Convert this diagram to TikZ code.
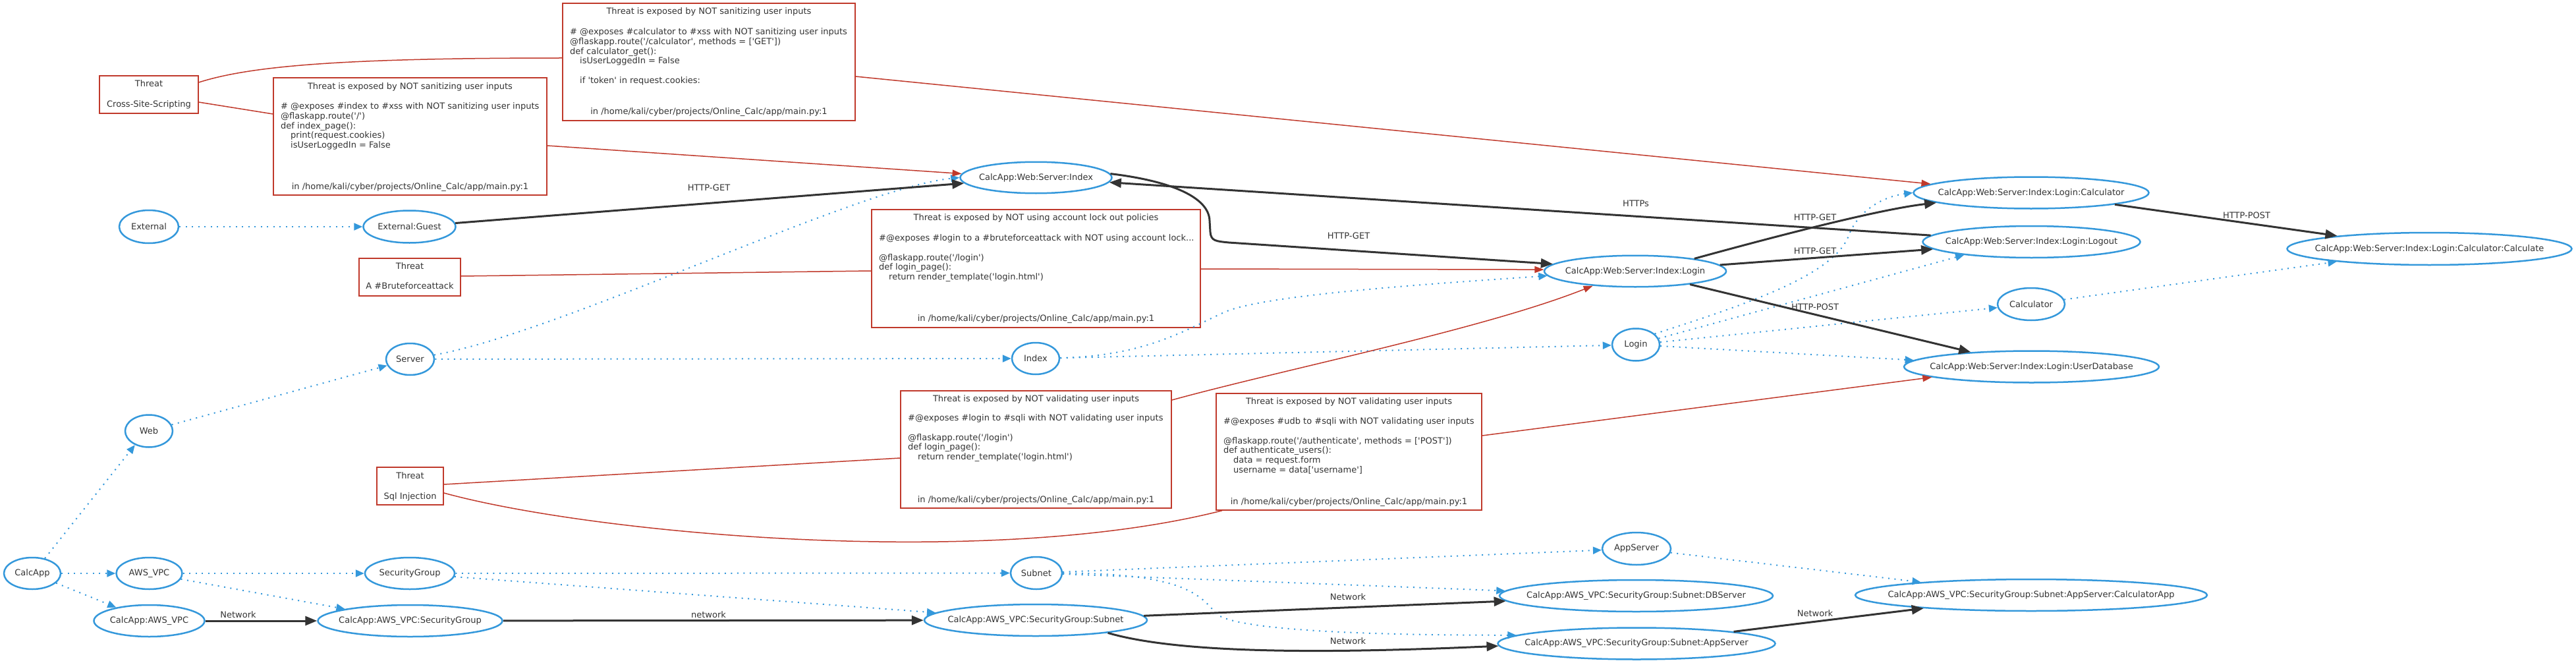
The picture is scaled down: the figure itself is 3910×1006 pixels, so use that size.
\documentclass[tikz,border=0pt]{standalone}
\usepackage{fontspec}
\setmainfont{DejaVu Sans}[Ligatures=TeXOff]
\usetikzlibrary{arrows.meta,shapes.geometric}
\definecolor{nblue}{HTML}{3498DB}
\definecolor{nred}{HTML}{C0392B}
\definecolor{ndark}{HTML}{333333}
\definecolor{ntext}{HTML}{333333}
\newcommand\zw[1]{\makebox[0pt]{#1}}
\begin{document}
\begin{tikzpicture}[x=1pt,y=-1pt,
  font=\fontsize{13}{14.7}\selectfont,
  every node/.style={text=ntext},
  ell/.style={ellipse, draw=nblue, line width=2.5pt, fill=white, inner sep=0pt},
  tbox/.style={draw=nred, line width=1.5pt, fill=white, inner sep=0pt},
  tl/.style={inner sep=0pt, anchor=base},
  cl/.style={inner sep=0pt, anchor=base west},
  lbl/.style={inner sep=0pt},
  hier/.style={draw=nblue, line width=2pt, dash pattern=on 2pt off 7.5pt, -{Triangle[length=13pt,width=11pt]}},
  flow/.style={draw=ndark, line width=3pt, -{Triangle[length=18pt,width=14pt]}},
  thr/.style={draw=nred, line width=1.5pt},
  thra/.style={thr, -{Triangle[length=14pt,width=10pt]}}
]
\useasboundingbox (0,0) rectangle (3910,1006);

% ---------- ellipses ----------
\node[ell, minimum width=86, minimum height=48] (calcapp) at (49,870) {\zw{CalcApp}};
\node[ell, minimum width=72, minimum height=49] (web) at (226,654) {\zw{Web}};
\node[ell, minimum width=73, minimum height=48] (server) at (622.5,545) {\zw{Server}};
\node[ell, minimum width=90, minimum height=50] (external) at (226,344) {\zw{External}};
\node[ell, minimum width=140, minimum height=49] (guest) at (621.5,344) {\zw{External:Guest}};
\node[ell, minimum width=230, minimum height=47.5] (wsi) at (1572.5,269.5) {\zw{CalcApp:Web:Server:Index}};
\node[ell, minimum width=72, minimum height=48] (index) at (1572,544) {\zw{Index}};
\node[ell, minimum width=276, minimum height=47.5] (wsil) at (2482,411.5) {\zw{CalcApp:Web:Server:Index:Login}};
\node[ell, minimum width=72, minimum height=49] (login) at (2483,523) {\zw{Login}};
\node[ell, minimum width=357, minimum height=48] (wcalc) at (3083,292.5) {\zw{CalcApp:Web:Server:Index:Login:Calculator}};
\node[ell, minimum width=330, minimum height=48] (wlogout) at (3083.5,367) {\zw{CalcApp:Web:Server:Index:Login:Logout}};
\node[ell, minimum width=432, minimum height=49] (wcalcul) at (3687.5,377.5) {\zw{CalcApp:Web:Server:Index:Login:Calculator:Calculate}};
\node[ell, minimum width=102, minimum height=49] (calculator) at (3083,461.5) {\zw{Calculator}};
\node[ell, minimum width=387, minimum height=48] (wudb) at (3083.5,556.5) {\zw{CalcApp:Web:Server:Index:Login:UserDatabase}};
\node[ell, minimum width=100, minimum height=48] (awsvpc) at (226.5,870) {\zw{AWS\_VPC}};
\node[ell, minimum width=136, minimum height=48] (sg) at (622,870) {\zw{SecurityGroup}};
\node[ell, minimum width=78, minimum height=49] (subnet) at (1573,869.5) {\zw{Subnet}};
\node[ell, minimum width=104, minimum height=49] (appserver) at (2484,832.5) {\zw{AppServer}};
\node[ell, minimum width=168, minimum height=48] (cavpc) at (226.5,942) {\zw{CalcApp:AWS\_VPC}};
\node[ell, minimum width=280, minimum height=48] (casg) at (622.5,942) {\zw{CalcApp:AWS\_VPC:SecurityGroup}};
\node[ell, minimum width=338, minimum height=48] (casub) at (1572,941) {\zw{CalcApp:AWS\_VPC:SecurityGroup:Subnet}};
\node[ell, minimum width=415, minimum height=48] (cadb) at (2483.5,904) {\zw{CalcApp:AWS\_VPC:SecurityGroup:Subnet:DBServer}};
\node[ell, minimum width=421, minimum height=48] (caapp) at (2484,976.5) {\zw{CalcApp:AWS\_VPC:SecurityGroup:Subnet:AppServer}};
\node[ell, minimum width=534, minimum height=48] (cacalc) at (3083,903) {\zw{CalcApp:AWS\_VPC:SecurityGroup:Subnet:AppServer:CalculatorApp}};

% ---------- threat boxes ----------
\node[tbox, minimum width=444, minimum height=178] (box1) at (1076,94) {};
\node[tbox, minimum width=415, minimum height=178] (box2) at (622.5,207) {};
\node[tbox, minimum width=499, minimum height=179] (lock) at (1572.5,407.5) {};
\node[tbox, minimum width=411, minimum height=178] (sqli) at (1572.5,682) {};
\node[tbox, minimum width=403, minimum height=177] (udb) at (2047.5,685.5) {};
\node[tbox, minimum width=150, minimum height=57] (xsst) at (226,143.5) {};
\node[tbox, minimum width=154, minimum height=57] (brutet) at (622,420.5) {};
\node[tbox, minimum width=101, minimum height=57] (sqlt) at (622.5,737.5) {};

% box1 text
\node[tl] (b1t) at (1076,21.7) {Threat is exposed by NOT sanitizing user inputs};
\node[cl] (b1a) at (865,52.7) {\# @exposes \#calculator to \#xss with NOT sanitizing user inputs};
\node[cl] (b1b) at (865,67.4) {@flaskapp.route('/calculator', methods = ['GET'])};
\node[cl] (b1c) at (865,82.1) {def calculator\_get():};
\node[cl] (b1d) at (865,96.8) {\hspace*{15pt}isUserLoggedIn = False};
\node[cl] (b1e) at (865,126.2) {\hspace*{15pt}if 'token' in request.cookies:};
\node[tl] (b1f) at (1076,173.7) {in /home/kali/cyber/projects/Online\_Calc/app/main.py:1};

% box2 text
\node[tl] (b2t) at (622.5,135.7) {Threat is exposed by NOT sanitizing user inputs};
\node[cl] (b2a) at (426,165.7) {\# @exposes \#index to \#xss with NOT sanitizing user inputs};
\node[cl] (b2b) at (426,180.4) {@flaskapp.route('/')};
\node[cl] (b2c) at (426,195.1) {def index\_page():};
\node[cl] (b2d) at (426,209.8) {\hspace*{15pt}print(request.cookies)};
\node[cl] (b2e) at (426,224.5) {\hspace*{15pt}isUserLoggedIn = False};
\node[tl] (b2f) at (622.5,287.7) {in /home/kali/cyber/projects/Online\_Calc/app/main.py:1};

% lockout text
\node[tl] (k0) at (1572.5,334.7) {Threat is exposed by NOT using account lock out policies};
\node[cl] (k1) at (1334,365.7) {\#@exposes \#login to a \#bruteforceattack with NOT using account lock...};
\node[cl] (k2) at (1334,395.1) {@flaskapp.route('/login')};
\node[cl] (k3) at (1334,409.8) {def login\_page():};
\node[cl] (k4) at (1334,424.5) {\hspace*{15pt}return render\_template('login.html')};
\node[tl] (k5) at (1572.5,487.7) {in /home/kali/cyber/projects/Online\_Calc/app/main.py:1};

% sqli login text
\node[tl] (q0) at (1572.5,609.7) {Threat is exposed by NOT validating user inputs};
\node[cl] (q1) at (1378,638.7) {\#@exposes \#login to \#sqli with NOT validating user inputs};
\node[cl] (q2) at (1378,668.1) {@flaskapp.route('/login')};
\node[cl] (q3) at (1378,682.8) {def login\_page():};
\node[cl] (q4) at (1378,697.5) {\hspace*{15pt}return render\_template('login.html')};
\node[tl] (q5) at (1572.5,762.7) {in /home/kali/cyber/projects/Online\_Calc/app/main.py:1};

% udb text
\node[tl] (u0) at (2047.5,613.7) {Threat is exposed by NOT validating user inputs};
\node[cl] (u1) at (1857,643.7) {\#@exposes \#udb to \#sqli with NOT validating user inputs};
\node[cl] (u2) at (1857,673.1) {@flaskapp.route('/authenticate', methods = ['POST'])};
\node[cl] (u3) at (1857,687.8) {def authenticate\_users():};
\node[cl] (u4) at (1857,702.5) {\hspace*{15pt}data = request.form};
\node[cl] (u5) at (1857,717.2) {\hspace*{15pt}username = data['username']};
\node[tl] (u6) at (2047.5,765.7) {in /home/kali/cyber/projects/Online\_Calc/app/main.py:1};

% small threat boxes text
\node[tl] (xsst1) at (226,131.7) {Threat};
\node[tl] (xsst2) at (226,162.7) {Cross-Site-Scripting};
\node[tl] (brutet1) at (622,408.7) {Threat};
\node[tl] (brutet2) at (622,438.7) {A \#Bruteforceattack};
\node[tl] (sqlt1) at (622.5,726.7) {Threat};
\node[tl] (sqlt2) at (622.5,757.7) {Sql Injection};

% ---------- hierarchy (dotted blue) ----------
\draw[hier] (calcapp.50) -- (web.225);
\draw[hier] (calcapp) -- (awsvpc);
\draw[hier] (calcapp) -- (cavpc);
\draw[hier] (web) -- (server);
\draw[hier] (server) .. controls (850,505) and (1300,285) .. (wsi.west);
\draw[hier] (server) -- (index);
\draw[hier] (external) -- (guest);
\draw[hier] (index) .. controls (1740,540) and (1800,500) .. (1860,473) .. controls (1920,448) and (2150,432) .. (wsil.183);
\draw[hier] (index) -- (login);
\draw[hier] (login.30) .. controls (2640,465) and (2780,420) .. (2805,360) .. controls (2820,318) and (2860,298) .. (wcalc.west);
\draw[hier] (login) -- (wlogout.191);
\draw[hier] (login) -- (calculator);
\draw[hier] (login) -- (wudb);
\draw[hier] (calculator) -- (wcalcul);
\draw[hier] (awsvpc) -- (sg);
\draw[hier] (awsvpc) -- (casg);
\draw[hier] (sg) -- (subnet);
\draw[hier] (sg) -- (casub);
\draw[hier] (subnet) -- (appserver);
\draw[hier] (subnet) -- (cadb);
\draw[hier] (subnet.east) .. controls (1790,870) and (1820,900) .. (1845,930) .. controls (1870,958) and (2100,964) .. (caapp.176);
\draw[hier] (appserver) -- (cacalc);

% ---------- flows (dark) ----------
\draw[flow] (guest) -- (wsi);
\draw[flow] (wsi.3) .. controls (1780,275) and (1835,300) .. (1836,335) -- (1837,352) .. controls (1838,366) and (1846,366) .. (1865,368) -- (wsil.175);
\draw[flow] (wlogout) -- (wsi);
\draw[flow] (wsil.12) .. controls (2690,360) and (2850,318) .. (wcalc.186);
\draw[flow] (wsil) -- (wlogout);
\draw[flow] (wsil) -- (wudb);
\draw[flow] (wcalc) -- (wcalcul);
\draw[flow] (cavpc) -- (casg);
\draw[flow] (casg) -- (casub);
\draw[flow] (casub) -- (cadb);
\draw[flow] (casub.350) .. controls (1800,995) and (2050,990) .. (caapp.181);
\draw[flow] (caapp) -- (cacalc);

% ---------- threats (red) ----------
\draw[thr] (xsst.east |- 0,125) .. controls (380,100) and (520,88) .. (box1.west |- 0,88);
\draw[thra] (box1.east |- 0,116) -- (wcalc.175);
\draw[thr] (xsst.east |- 0,155) -- (box2.west |- 0,173);
\draw[thra] (box2.east |- 0,221) -- (wsi.177);
\draw[thr] (brutet.east |- 0,419) -- (lock.west |- 0,411);
\draw[thra] (lock.east |- 0,408) -- (wsil.179);
\draw[thr] (sqlt.east |- 0,735) -- (sqli.west |- 0,695);
\draw[thr] (sqlt.east |- 0,748) .. controls (900,810) and (1500,865) .. (1855,0 |- udb.south);
\draw[thra] (sqli.east |- 0,607) .. controls (1950,560) and (2250,500) .. (wsil.199);
\draw[thra] (udb.east |- 0,661) -- (wudb.186);

% ---------- edge labels ----------
\node[lbl] (e1) at (1076,285) {HTTP-GET};
\node[lbl] (e2) at (2047,358) {HTTP-GET};
\node[lbl] (e3) at (2483,309) {HTTPs};
\node[lbl] (e4) at (2755,330) {HTTP-GET};
\node[lbl] (e5) at (2755,381) {HTTP-GET};
\node[lbl] (e6) at (2755,466) {HTTP-POST};
\node[lbl] (e7) at (3410,327) {HTTP-POST};
\node[lbl] (e8) at (361.5,933) {Network};
\node[lbl] (e9) at (1075.5,933) {network};
\node[lbl] (e10) at (2046,906) {Network};
\node[lbl] (e11) at (2046,973) {Network};
\node[lbl] (e12) at (2755,931) {Network};
\end{tikzpicture}
\end{document}
